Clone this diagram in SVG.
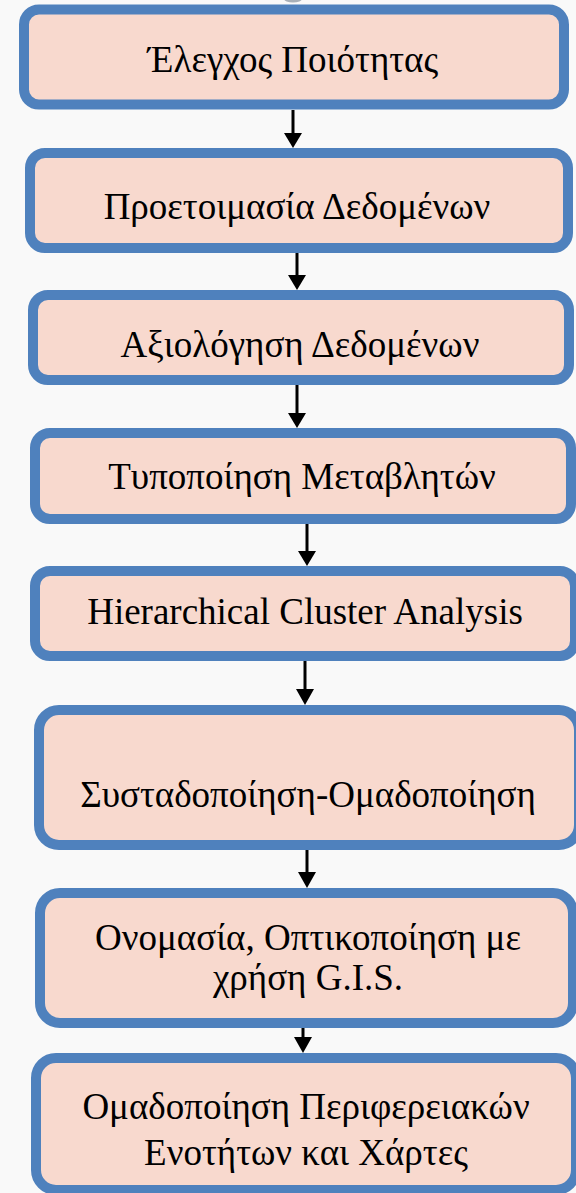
<svg xmlns="http://www.w3.org/2000/svg" width="576" height="1193" viewBox="0 0 576 1193">
<defs>
<style>
.box{fill:#f8d9ce;stroke:#4f81bd;stroke-width:10}
.t{font-family:"Liberation Serif","Times New Roman",serif;font-size:37px;fill:#000;text-anchor:middle}
.c{stroke:#000;stroke-width:3;fill:none}
.h{fill:#000}
</style>
</defs>
<rect width="576" height="1193" fill="#f9f9f9"/>
<ellipse cx="293" cy="-1" rx="9" ry="3.5" fill="#a8b0b8"/>
<g id="n1"><rect class="box" x="24" y="9.5" width="540" height="95" rx="15"/><text class="t" x="293" y="72">Έλεγχος Ποιότητας</text></g>
<g id="n2"><rect class="box" x="30" y="153" width="538" height="95" rx="15"/><text class="t" x="297" y="219">Προετοιμασία Δεδομένων</text></g>
<g id="n3"><rect class="box" x="33" y="295" width="536" height="85" rx="15"/><text class="t" x="300" y="357">Αξιολόγηση Δεδομένων</text></g>
<g id="n4"><rect class="box" x="35" y="433" width="536" height="86" rx="15"/><text class="t" x="302" y="489">Τυποποίηση Μεταβλητών</text></g>
<g id="n5"><rect class="box" x="35" y="571" width="540" height="85" rx="15"/><text class="t" x="305" y="624">Hierarchical Cluster Analysis</text></g>
<g id="n6"><rect class="box" x="39" y="710" width="540" height="135" rx="20"/><text class="t" x="308" y="807">Συσταδοποίηση-Ομαδοποίηση</text></g>
<g id="n7"><rect class="box" x="40" y="893" width="533" height="130" rx="20"/><text class="t" x="308" y="950">Ονομασία, Οπτικοποίηση με</text><text class="t" x="308" y="990">χρήση G.I.S.</text></g>
<g id="n8"><rect class="box" x="36" y="1058" width="540" height="132" rx="20"/><text class="t" x="306" y="1119">Ομαδοποίηση Περιφερειακών</text><text class="t" x="306" y="1165">Ενοτήτων και Χάρτες</text></g>
<g id="connectors">
<line class="c" x1="293" y1="110" x2="293" y2="134"/><polygon class="h" points="284,133 302,133 293,148"/>
<line class="c" x1="297" y1="253" x2="297" y2="276"/><polygon class="h" points="288,275 306,275 297,290"/>
<line class="c" x1="297" y1="385" x2="297" y2="414"/><polygon class="h" points="288,413 306,413 297,428"/>
<line class="c" x1="307" y1="524" x2="307" y2="552"/><polygon class="h" points="298,551 316,551 307,566"/>
<line class="c" x1="305" y1="661" x2="305" y2="690"/><polygon class="h" points="296,689 314,689 305,705"/>
<line class="c" x1="307" y1="850" x2="307" y2="873"/><polygon class="h" points="298,872 316,872 307,888"/>
<line class="c" x1="303" y1="1028" x2="303" y2="1038"/><polygon class="h" points="294,1037 312,1037 303,1053"/>
</g>
</svg>
